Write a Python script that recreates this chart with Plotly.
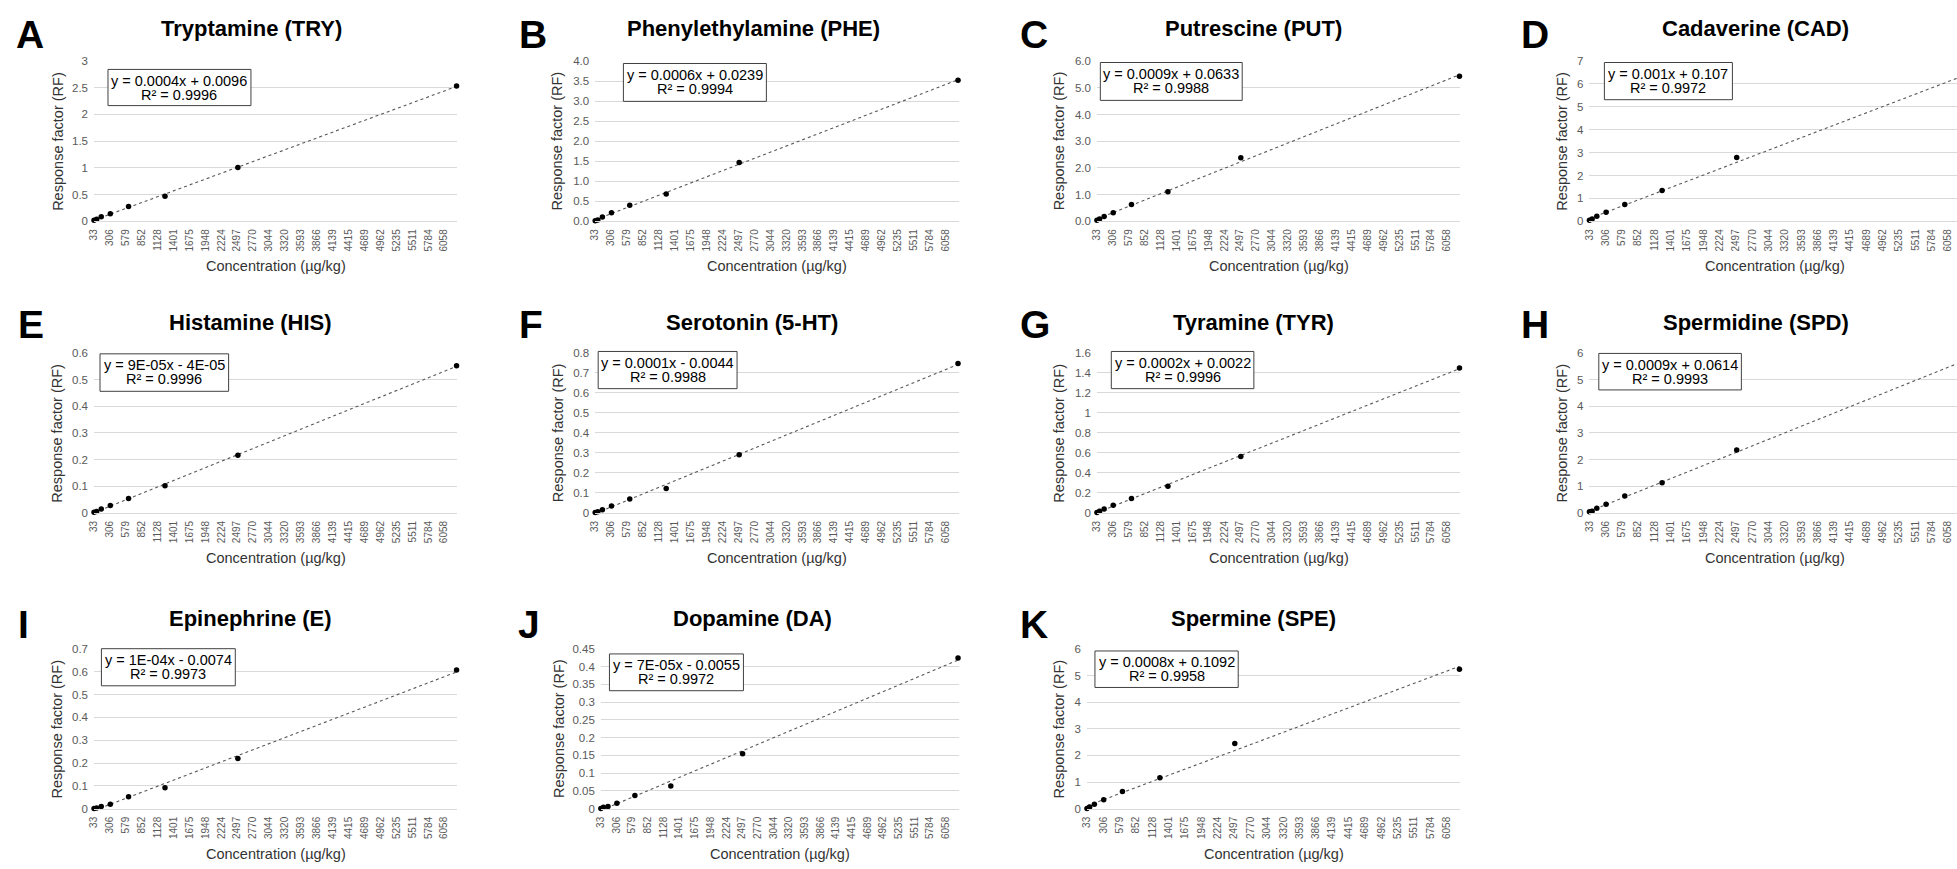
import numpy as np
import plotly.graph_objects as go

W, H = 1957, 869

# ---------------- data ----------------
conc = [33, 78, 157, 313, 627, 1254, 2508, 6270]
x_tick_labels = ["33", "306", "579", "852", "1128", "1401", "1675", "1948", "2224", "2497",
                 "2770", "3044", "3320", "3593", "3866", "4139", "4415", "4689", "4962",
                 "5235", "5511", "5784", "6058"]

letters = ["A", "B", "C", "D", "E", "F", "G", "H", "I", "J", "K"]
titles = ["Tryptamine (TRY)", "Phenylethylamine (PHE)", "Putrescine (PUT)", "Cadaverine (CAD)",
          "Histamine (HIS)", "Serotonin (5-HT)", "Tyramine (TYR)", "Spermidine (SPD)",
          "Epinephrine (E)", "Dopamine (DA)", "Spermine (SPE)"]

rf_TRY = [0.018, 0.04, 0.086, 0.14, 0.276, 0.47, 1.006, 2.53]
rf_PHE = [0.016, 0.035, 0.107, 0.21, 0.40, 0.68, 1.47, 3.52]
rf_PUT = [0.04, 0.09, 0.18, 0.32, 0.63, 1.11, 2.38, 5.43]
rf_CAD = [0.04, 0.10, 0.22, 0.40, 0.73, 1.35, 2.79, 6.22]
rf_HIS = [0.002, 0.005, 0.015, 0.028, 0.054, 0.102, 0.216, 0.552]
rf_5HT = [0.002, 0.006, 0.016, 0.034, 0.069, 0.122, 0.291, 0.747]
rf_TYR = [0.003, 0.016, 0.039, 0.076, 0.145, 0.266, 0.565, 1.449]
rf_SPD = [0.04, 0.06, 0.17, 0.32, 0.63, 1.13, 2.36, 5.62]
rf_E = [0.001, 0.003, 0.010, 0.020, 0.053, 0.092, 0.220, 0.607]
rf_DA = [0.0005, 0.004, 0.0065, 0.0157, 0.037, 0.064, 0.155, 0.424]
rf_SPE = [0.01, 0.07, 0.17, 0.34, 0.65, 1.16, 2.45, 5.23]
series = [rf_TRY, rf_PHE, rf_PUT, rf_CAD, rf_HIS, rf_5HT, rf_TYR, rf_SPD, rf_E, rf_DA, rf_SPE]

eq_text = ["y = 0.0004x + 0.0096", "y = 0.0006x + 0.0239", "y = 0.0009x + 0.0633",
           "y = 0.001x + 0.107", "y = 9E-05x - 4E-05", "y = 0.0001x - 0.0044",
           "y = 0.0002x + 0.0022", "y = 0.0009x + 0.0614", "y = 1E-04x - 0.0074",
           "y = 7E-05x - 0.0055", "y = 0.0008x + 0.1092"]
r2_text = ["R² = 0.9996", "R² = 0.9994", "R² = 0.9988", "R² = 0.9972", "R² = 0.9996",
           "R² = 0.9988", "R² = 0.9996", "R² = 0.9993", "R² = 0.9973", "R² = 0.9972",
           "R² = 0.9958"]

# y axis: (max, step, decimals or None for general)
y_axes = [(3, 0.5, None), (4, 0.5, 1), (6, 1, 1), (7, 1, None), (0.6, 0.1, None),
          (0.8, 0.1, None), (1.6, 0.2, None), (6, 1, None), (0.7, 0.1, None),
          (0.45, 0.05, None), (6, 1, None)]

# ---------------- layout geometry (pixels) ----------------
# left, right, top, bottom, xmax
plots = [(88.3, 452.7, 55.5, 218.3, 6283), (591, 955.7, 55.7, 218.3, 6283),
         (1094.3, 1458.7, 55.7, 218.3, 6283), (1588.3, 1957, 55.7, 218.3, 6210),
         (88.3, 452.7, 351.7, 514, 6283), (591, 955.7, 351.7, 514, 6283),
         (1094.3, 1458.7, 351.7, 514, 6283), (1588.3, 1957, 351.7, 514, 6210),
         (88.3, 452.7, 651.7, 814, 6283), (596.7, 955.7, 651.7, 814, 6283),
         (1084.3, 1458.7, 651.7, 814, 6283)]
title_pos = [(246.7, 23.3), (750, 23.3), (1251.7, 23.3), (1755, 23.3),
             (245, 320.7), (748, 320.7), (1251.7, 320.7), (1755, 320.7),
             (245, 620.7), (748.3, 620.7), (1251.7, 620.7)]
letter_pos = [(13, 28.7), (518, 28.7), (1020, 28.7), (1523, 28.7),
              (15, 322.5), (518, 322.5), (1020, 322.5), (1523, 322.5),
              (15, 626.7), (517, 626.7), (1020, 626.7)]
ytitle_x = [52, 553, 1056.5, 1560.5, 51, 554, 1056, 1560.5, 51, 554, 1056]
boxes = [(102.3, 245.7, 64.3, 101), (619.3, 762.7, 58.3, 96.7), (1097.7, 1240, 57.3, 95.7),
         (1603.3, 1731.7, 57.3, 95), (94.3, 223.3, 352.7, 390.7), (594, 733.3, 350.3, 388),
         (1108.7, 1251.7, 350.3, 388), (1597.7, 1740.7, 352.3, 389.3), (95.7, 230, 651.7, 689.3),
         (605.3, 739.7, 657, 694.3), (1092.3, 1236, 654, 691)]

FONT = "Liberation Sans, Arial, sans-serif"


def fx(px):
    return px / W


def fy(py):
    return 1 - py / H


fig = go.Figure()
annotations = []
shapes = []
layout = {}

x_tick_vals = [float(s) for s in x_tick_labels]

for i in range(len(series)):
    n = i + 1
    xa = "x" if n == 1 else f"x{n}"
    ya = "y" if n == 1 else f"y{n}"
    l, r, t, b, xmax = plots[i]
    ymax, step, dec = y_axes[i]
    yv = series[i]

    # least-squares trend line over data extent
    slope, icpt = np.polyfit(conc, yv, 1)
    tx = [conc[0], conc[-1]]
    ty = [slope * v + icpt for v in tx]
    fig.add_trace(go.Scatter(x=tx, y=ty, mode="lines", xaxis=xa, yaxis=ya,
                             line=dict(color="#595959", width=1.1, dash="dot"),
                             hoverinfo="skip", showlegend=False))
    fig.add_trace(go.Scatter(x=conc, y=yv, mode="markers", xaxis=xa, yaxis=ya,
                             marker=dict(color="black", size=5.5), cliponaxis=False,
                             showlegend=False))

    nt = int(round(ymax / step))
    yt = [round(k * step, 6) for k in range(nt + 1)]
    if dec is None:
        ytxt = [f"{v:g}" for v in yt]
    else:
        ytxt = [f"{v:.{dec}f}" for v in yt]

    kx = "xaxis" if n == 1 else f"xaxis{n}"
    ky = "yaxis" if n == 1 else f"yaxis{n}"
    layout[kx] = dict(domain=[fx(l), fx(r)], range=[33, xmax], anchor=ya,
                      tickvals=x_tick_vals, ticktext=x_tick_labels, tickangle=-90,
                      tickfont=dict(family=FONT, size=10, color="#595959"),
                      ticklabelstandoff=3,
                      showgrid=False, zeroline=False, showline=True, linecolor="#d9d9d9",
                      linewidth=1, ticks="", fixedrange=True)
    layout[ky] = dict(domain=[fy(b), fy(t)], range=[0, ymax * 1.0008], anchor=xa,
                      tickvals=yt, ticktext=ytxt, ticklabelstandoff=5,
                      tickfont=dict(family=FONT, size=11.5, color="#595959"),
                      showgrid=True, gridcolor="#d9d9d9", gridwidth=1, zeroline=False,
                      showline=False, ticks="", fixedrange=True)

    # title and panel letter
    tx_, ty_ = title_pos[i]
    annotations.append(dict(x=fx(tx_), y=fy(ty_), xref="paper", yref="paper", text=f"<b>{titles[i]}</b>",
                            showarrow=False, xanchor="center", yanchor="middle",
                            font=dict(family=FONT, size=22, color="black")))
    lx, ly = letter_pos[i]
    annotations.append(dict(x=fx(lx - 5), y=fy(ly), xref="paper", yref="paper", text=f"<b>{letters[i]}</b>",
                            showarrow=False, xanchor="left", yanchor="middle",
                            font=dict(family=FONT, size=39, color="black")))
    # axis titles
    annotations.append(dict(x=fx(ytitle_x[i]), y=fy((t + b) / 2), xref="paper", yref="paper",
                            text="Response factor (RF)", textangle=-90, showarrow=False,
                            xanchor="center", yanchor="middle",
                            font=dict(family=FONT, size=14.5, color="#333333")))
    xt_center = (l + 186.5) if xmax < 6283 else (l + r) / 2
    annotations.append(dict(x=fx(xt_center), y=fy(b + 45.5), xref="paper", yref="paper",
                            text="Concentration (µg/kg)", showarrow=False,
                            xanchor="center", yanchor="middle",
                            font=dict(family=FONT, size=14.5, color="#333333")))
    # equation box
    bl, br, bt, bb = boxes[i]
    shapes.append(dict(type="rect", xref="paper", yref="paper", x0=fx(bl), x1=fx(br),
                       y0=fy(bb), y1=fy(bt), line=dict(color="#404040", width=1),
                       fillcolor="white", layer="above"))
    annotations.append(dict(x=fx((bl + br) / 2), y=fy(bt + 11.5), xref="paper", yref="paper",
                            text=eq_text[i], showarrow=False, xanchor="center", yanchor="middle",
                            font=dict(family=FONT, size=14.5, color="black")))
    annotations.append(dict(x=fx((bl + br) / 2), y=fy(bt + 25.5), xref="paper", yref="paper",
                            text=r2_text[i], showarrow=False, xanchor="center", yanchor="middle",
                            font=dict(family=FONT, size=14.5, color="black")))

fig.update_layout(width=W, height=H, margin=dict(l=0, r=0, t=0, b=0),
                  paper_bgcolor="white", plot_bgcolor="white", showlegend=False,
                  annotations=annotations, shapes=shapes, **layout)

fig.write_html("out.html")
